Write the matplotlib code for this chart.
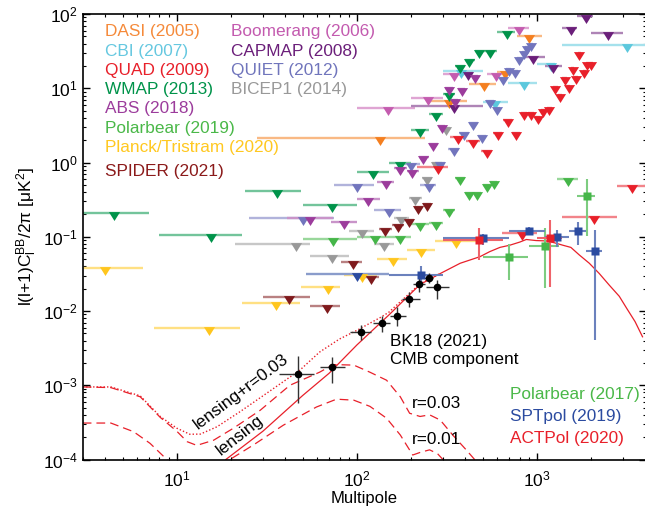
import matplotlib
matplotlib.use('Agg')
import matplotlib.pyplot as plt
import matplotlib.colors as mcolors
import matplotlib.ticker as mticker
import numpy as np

plt.rcParams['font.family'] = ['Liberation Sans', 'DejaVu Sans']
plt.rcParams['mathtext.fontset'] = 'custom'
plt.rcParams['mathtext.rm'] = 'Liberation Sans'
plt.rcParams['mathtext.it'] = 'Liberation Sans:italic'
plt.rcParams['mathtext.default'] = 'regular'

# ---- theory curves ----
lens_l = [18.7, 30, 50, 70, 100, 150, 224, 290, 374, 482, 545, 622, 705, 803, 871, 987,
          1125, 1250, 1390, 1540, 1715, 1950, 2215, 2510, 2860, 3150, 3500, 3850]
lens_d = [1e-4, 2.4e-4, 7.3e-4, 1.45e-3, 3.5e-3, 8.8e-3, 0.0228, 0.032, 0.044, 0.054, 0.063,
          0.072, 0.077, 0.085, 0.092, 0.089, 0.088, 0.083, 0.077, 0.072, 0.057, 0.044, 0.032,
          0.0225, 0.0158, 0.0108, 0.0072, 0.0045]

dot_l = [3, 4.3, 6.26, 8.08, 10, 11.8, 13.5, 16.7, 22.4, 31.5, 48.2, 62, 80, 100, 135, 150, 224, 290]
dot_d = [9.5e-4, 9.5e-4, 7.2e-4, 3.8e-4, 2.64e-4, 2.19e-4, 2.2e-4, 2.76e-4, 4.4e-4, 7.8e-4,
         1.6e-3, 2.8e-3, 4.2e-3, 5.5e-3, 8.2e-3, 9.6e-3, 0.0233, 0.0322]

r03_l = [3, 4.3, 6.26, 8.08, 10, 11.4, 12.9, 16, 20.6, 29, 42.4, 62, 73.8, 96, 118, 146, 174,
         196, 224, 253, 290, 340, 404, 450, 520]
r03_d = [9.5e-4, 9.3e-4, 7e-4, 3.7e-4, 2.4e-4, 1.74e-4, 1.55e-4, 1.82e-4, 2.64e-4, 4.6e-4,
         1e-3, 1.5e-3, 1.9e-3, 1.87e-3, 1.5e-3, 1.17e-3, 7e-4, 4.2e-4, 3.8e-4, 4.0e-4, 3.4e-4,
         2.14e-4, 1.35e-4, 1e-4, 6e-5]

r01_l = [3, 4.3, 5.75, 7.1, 8.8, 10, 13, 17, 19.7, 26.6, 39, 59.6, 77, 96, 118, 146, 174, 204,
         225, 253, 280, 300, 330]
r01_d = [3.1e-4, 3.1e-4, 2.37e-4, 1.65e-4, 1e-4, 6e-5, 5e-5, 7e-5, 1e-4, 1.57e-4, 2.9e-4,
         5.1e-4, 6.5e-4, 6.3e-4, 5.2e-4, 3.6e-4, 2.14e-4, 1.15e-4, 1.25e-4, 1.35e-4, 1.2e-4,
         1e-4, 7e-5]

# ---- upper limits: centre, bin low, bin high, value ----
dasi_l = [135, 323, 505, 660, 907]
dasi_lo = [28, 250, 420, 600, 770]
dasi_hi = [240, 410, 590, 740, 1060]
dasi_d = [2.14, 6.7, 11.4, 16.7, 50]

cbi_l = [380, 587, 844, 1190, 3160]
cbi_lo = [300, 500, 690, 1000, 1380]
cbi_hi = [500, 690, 1000, 1260, 6000]
cbi_d = [17, 6.5, 11.7, 21, 38]

quad_l = [281, 363, 443, 525, 605, 687, 765, 844, 926, 1006, 1085, 1170, 1260, 1340, 1420,
          1495, 1574, 1640, 1717, 1830, 1905, 1995]
quad_lo = [215, 330, 405, 490, 570, 650, 730, 810, 890, 970, 1050, 1130, 1220, 1300, 1380,
           1460, 1540, 1610, 1680, 1790, 1870, 1950]
quad_hi = [320, 400, 480, 560, 640, 725, 800, 880, 960, 1040, 1120, 1210, 1300, 1380, 1460,
           1530, 1610, 1680, 1760, 1870, 1940, 2040]
quad_d = [0.88, 2.2, 1.95, 1.43, 2.47, 3.73, 2.47, 4.6, 4.7, 4.06, 5.1, 5.37, 10.5, 8.2, 13.7,
          10.8, 18.6, 14.3, 30, 17.2, 21.7, 22]

wmap_l = [4.5, 15.5, 36, 73, 122, 173, 224, 273, 323, 371, 421, 473, 551, 677]
wmap_lo = [2, 8, 24, 50, 100, 150, 200, 250, 300, 350, 400, 450, 500, 600]
wmap_hi = [7, 23, 49, 100, 150, 200, 250, 300, 350, 400, 450, 500, 600, 750]
wmap_d = [0.21, 0.105, 0.41, 0.27, 0.74, 1.0, 2.74, 4.5, 8.4, 20, 24, 31.7, 31.7, 57]

abs_l = [55, 85, 115, 145, 173, 203, 234, 263, 295, 323, 350, 383, 450]
abs_lo = [41, 72, 100, 130, 160, 190, 220, 250, 280, 310, 335, 365, 430]
abs_hi = [74, 100, 135, 160, 190, 220, 250, 280, 310, 340, 365, 400, 470]
abs_d = [0.18, 0.158, 0.32, 0.55, 0.85, 0.78, 1.19, 1.8, 3.1, 10, 7, 9.8, 14.8]

pb19_l = [74, 126, 174, 224, 273, 323, 374, 421, 465, 525, 575, 1493]
pb19_lo = [50, 100, 150, 200, 250, 300, 350, 400, 445, 500, 550, 1290]
pb19_hi = [100, 150, 200, 250, 300, 350, 400, 445, 490, 550, 600, 1680]
pb19_d = [0.093, 0.1, 0.1, 0.149, 0.152, 0.23, 0.62, 0.39, 0.39, 0.50, 0.55, 0.6]

planck_l = [4, 15, 35.5, 69, 106, 158, 228, 355]
planck_lo = [2, 7.5, 23, 49, 85, 130, 190, 270]
planck_hi = [6.5, 22.4, 48, 80, 130, 190, 270, 480]
planck_d = [0.0376, 0.00585, 0.0127, 0.021, 0.0305, 0.051, 0.066, 0.088]

spider_l = [42, 68, 95, 119, 144, 169, 194, 218, 245]
spider_lo = [30, 55, 82, 107, 132, 157, 182, 207, 232]
spider_hi = [55, 80, 107, 132, 157, 182, 207, 232, 257]
spider_d = [0.0156, 0.0117, 0.046, 0.029, 0.127, 0.144, 0.168, 0.254, 0.28]

boom_l = [148, 247, 346, 590, 796]
boom_lo = [100, 200, 300, 530, 690]
boom_hi = [210, 300, 400, 640, 900]
boom_d = [5.4, 7.4, 15.5, 15.8, 64]

capmap_l = [346, 415, 946, 1230, 1540, 1860, 2490]
capmap_lo = [200, 390, 850, 1100, 1380, 1670, 2000]
capmap_hi = [500, 440, 1100, 1380, 1670, 2050, 3000]
capmap_d = [5.8, 15.9, 26.6, 19.8, 65, 95, 55]

quiet_l = [50, 100, 150, 200, 250, 290, 346, 395, 443, 496, 550, 597, 645, 694, 755, 796, 850, 880, 925]
quiet_lo = [25, 75, 125, 175, 225, 270, 320, 370, 420, 470, 520, 570, 620, 670, 720, 770, 820, 860, 900]
quiet_hi = [75, 125, 175, 225, 275, 310, 370, 420, 470, 520, 580, 620, 670, 720, 780, 820, 870, 900, 950]
quiet_d = [0.177, 0.5, 0.23, 0.95, 0.5, 0.99, 1.52, 2.47, 3.4, 2.3, 6.7, 5.5, 13.6, 18.2, 17, 26, 31, 36, 40]

bicep_l = [46, 73, 107, 141, 175, 211, 245, 276, 313]
bicep_lo = [21, 55, 90, 125, 160, 195, 230, 260, 295]
bicep_hi = [55, 90, 125, 160, 195, 230, 260, 295, 330]
bicep_d = [0.081, 0.055, 0.12, 0.081, 0.177, 0.33, 0.61, 1.0, 2.9]

sptlim_l, sptlim_lo, sptlim_hi, sptlim_d = [100], [52], [150], [0.032]

actlim_l = [822, 2075, 3360]
actlim_lo = [640, 1380, 2780]
actlim_hi = [1000, 2780, 4500]
actlim_d = [0.113, 0.183, 0.48]

# ---- detections: centre, bin, value, value range ----
spt_l = [226, 500, 900, 1285, 1695, 2095]
spt_lo = [150, 300, 700, 1100, 1500, 1880]
spt_hi = [300, 700, 1100, 1500, 1880, 2300]
spt_d = [0.0305, 0.095, 0.12, 0.098, 0.121, 0.065]
spt_dlo = [0.0235, 0.078, 0.105, 0.072, 0.078, 0.0041]
spt_dhi = [0.040, 0.11, 0.135, 0.123, 0.159, 0.123]

act_l = [473, 1186]
act_lo = [300, 1000]
act_hi = [650, 1380]
act_d = [0.09, 0.095]
act_dlo = [0.049, 0.0214]
act_dhi = [0.13, 0.168]

pb17_l = [697, 1100, 1885]
pb17_lo = [500, 900, 1670]
pb17_hi = [890, 1330, 2090]
pb17_d = [0.054, 0.075, 0.357]
pb17_dlo = [0.026, 0.0202, 0.103]
pb17_dhi = [0.081, 0.13, 0.6]

bk_l = [47, 73, 105, 137, 167, 194, 221, 250, 279]
bk_lo = [37, 62, 91, 122, 152, 177, 205, 237, 242]
bk_hi = [58, 86, 120, 152, 187, 224, 240, 265, 325]
bk_d = [0.00142, 0.00175, 0.00526, 0.0068, 0.00865, 0.0145, 0.0229, 0.0281, 0.0208]
bk_dlo = [5.7e-4, 1.08e-3, 4.1e-3, 5.2e-3, 6.3e-3, 0.0114, 0.0178, 0.0235, 0.0146]
bk_dhi = [0.0025, 0.0024, 0.0065, 0.0085, 0.0112, 0.018, 0.0295, 0.033, 0.0263]

red = '#E8202A'
colors = {
    'DASI': '#F47F20', 'CBI': '#5CC8DD', 'QUAD': red, 'WMAP': '#00934A',
    'ABS': '#9C3C9C', 'Polarbear': '#45B649', 'Planck': '#FFC61E', 'SPIDER': '#7F1A1C',
    'Boomerang': '#C45CAF', 'CAPMAP': '#6B1F7A', 'QUIET': '#7275BD', 'BICEP1': '#999999',
    'SPTpol': '#2B4BA0',
}


def light(c, f=0.45):
    r = np.array(mcolors.to_rgb(c))
    return tuple(r + (1 - r) * f)


fig = plt.figure(figsize=(6.45, 5.12), dpi=100)
ax = fig.add_axes([0.1282, 0.1025, 0.8726, 0.870])
ax.set_xscale('log')
ax.set_yscale('log')

# theory
ax.plot(lens_l, lens_d, color=red, lw=0.9, zorder=1)
ax.plot(dot_l, dot_d, color=red, lw=1.0, dashes=(1, 1.5), zorder=1)
ax.plot(r03_l, r03_d, color=red, lw=0.9, dashes=(7, 4), zorder=1)
ax.plot(r01_l, r01_d, color=red, lw=0.9, dashes=(7, 4), zorder=1)

hang = [(-1, 0.25), (1, 0.25), (0, -1.35)]  # triangle hanging under its bin bar


def limits(l, lo, hi, d, col):
    ax.hlines(d, lo, hi, color=light(col), lw=1.7, zorder=2)
    ax.plot(l, d, ls='none', marker=hang, ms=10.8, color=col, mec='none', zorder=3)


limits(bicep_l, bicep_lo, bicep_hi, bicep_d, colors['BICEP1'])
limits(dasi_l, dasi_lo, dasi_hi, dasi_d, colors['DASI'])
limits(cbi_l, cbi_lo, cbi_hi, cbi_d, colors['CBI'])
limits(boom_l, boom_lo, boom_hi, boom_d, colors['Boomerang'])
limits(capmap_l, capmap_lo, capmap_hi, capmap_d, colors['CAPMAP'])
limits(quiet_l, quiet_lo, quiet_hi, quiet_d, colors['QUIET'])
limits(quad_l, quad_lo, quad_hi, quad_d, colors['QUAD'])
limits(wmap_l, wmap_lo, wmap_hi, wmap_d, colors['WMAP'])
limits(abs_l, abs_lo, abs_hi, abs_d, colors['ABS'])
limits(pb19_l, pb19_lo, pb19_hi, pb19_d, colors['Polarbear'])
limits(planck_l, planck_lo, planck_hi, planck_d, colors['Planck'])
limits(spider_l, spider_lo, spider_hi, spider_d, colors['SPIDER'])
limits(sptlim_l, sptlim_lo, sptlim_hi, sptlim_d, colors['SPTpol'])
limits(actlim_l, actlim_lo, actlim_hi, actlim_d, red)


def bands(l, lo, hi, d, dlo, dhi, col, ecol, marker='s', ms=6, elw=1.5):
    xerr = [np.subtract(l, lo), np.subtract(hi, l)]
    yerr = [np.subtract(d, dlo), np.subtract(dhi, d)]
    ax.errorbar(l, d, xerr=xerr, yerr=yerr, fmt=marker, ms=ms, color=col, ecolor=ecol,
                elinewidth=elw, capsize=0, mec='none', zorder=4)


bands(pb17_l, pb17_lo, pb17_hi, pb17_d, pb17_dlo, pb17_dhi, colors['Polarbear'], light(colors['Polarbear'], 0.3))
bands(spt_l, spt_lo, spt_hi, spt_d, spt_dlo, spt_dhi, colors['SPTpol'], light(colors['SPTpol'], 0.3))
bands(act_l, act_lo, act_hi, act_d, act_dlo, act_dhi, red, light(red, 0.3))
bands(bk_l, bk_lo, bk_hi, bk_d, bk_dlo, bk_dhi, 'black', '#333333', marker='o', ms=5.5, elw=1.0)

ax.set_xlim(3, 4000)
ax.set_ylim(1e-4, 1e2)
ax.xaxis.set_minor_formatter(mticker.NullFormatter())
ax.yaxis.set_minor_formatter(mticker.NullFormatter())

for s in ax.spines.values():
    s.set_linewidth(1.2)
ax.tick_params(which='both', direction='in', top=True, right=True, labelsize=12.5)
ax.tick_params(which='major', length=5, width=1)
ax.tick_params(which='minor', length=2.5, width=0.8)
ax.tick_params(axis='x', pad=7)

ax.set_xlabel('Multipole', fontsize=12, labelpad=1)
ax.set_ylabel(r'l(l+1)C$_l^{BB}$/2$\pi$ [$\mu$K$^2$]', fontsize=12.5, labelpad=3)

# legend block, drawn as coloured text
col1 = [('DASI (2005)', '#F58A3A'), ('CBI (2007)', '#66C8E0'), ('QUAD (2009)', red),
        ('WMAP (2013)', '#00934A'), ('ABS (2018)', '#9C3C9C'), ('Polarbear (2019)', '#4AB848'),
        ('Planck/Tristram (2020)', '#FFC820'), ('SPIDER (2021)', '#8B1A1A')]
col2 = [('Boomerang (2006)', '#C35AAF'), ('CAPMAP (2008)', '#6B1F7A'),
        ('QUIET (2012)', '#7075BC'), ('BICEP1 (2014)', '#999999')]
rows = [0.9502, 0.9068, 0.8642, 0.8209, 0.7774, 0.7325, 0.6898, 0.6359]
fs = 12.4
for (t, c), y in zip(col1, rows):
    ax.text(0.040, y, t, color=c, fontsize=fs, transform=ax.transAxes, va='baseline')
for (t, c), y in zip(col2, rows):
    ax.text(0.2635, y, t, color=c, fontsize=fs, transform=ax.transAxes, va='baseline')

ax.text(0.546, 0.2559, 'BK18 (2021)', fontsize=fs, transform=ax.transAxes, va='baseline')
ax.text(0.546, 0.2148, 'CMB component', fontsize=fs, transform=ax.transAxes, va='baseline')
ax.text(0.5846, 0.1156, 'r=0.03', fontsize=fs, transform=ax.transAxes, va='baseline')
ax.text(0.5846, 0.0352, 'r=0.01', fontsize=fs, transform=ax.transAxes, va='baseline')
ax.text(0.7589, 0.1362, 'Polarbear (2017)', color='#4AB848', fontsize=fs, transform=ax.transAxes, va='baseline')
ax.text(0.7589, 0.0860, 'SPTpol (2019)', color=colors['SPTpol'], fontsize=fs, transform=ax.transAxes, va='baseline')
ax.text(0.7589, 0.0366, 'ACTPol (2020)', color=red, fontsize=fs, transform=ax.transAxes, va='baseline')

ax.text(0.2817, 0.1530, 'lensing+r=0.03', fontsize=fs, rotation=37, transform=ax.transAxes,
        ha='center', va='center', rotation_mode='anchor')
ax.text(0.2794, 0.054, 'lensing', fontsize=fs, rotation=38, transform=ax.transAxes,
        ha='center', va='center', rotation_mode='anchor')

fig.savefig('out.png', dpi=100)
